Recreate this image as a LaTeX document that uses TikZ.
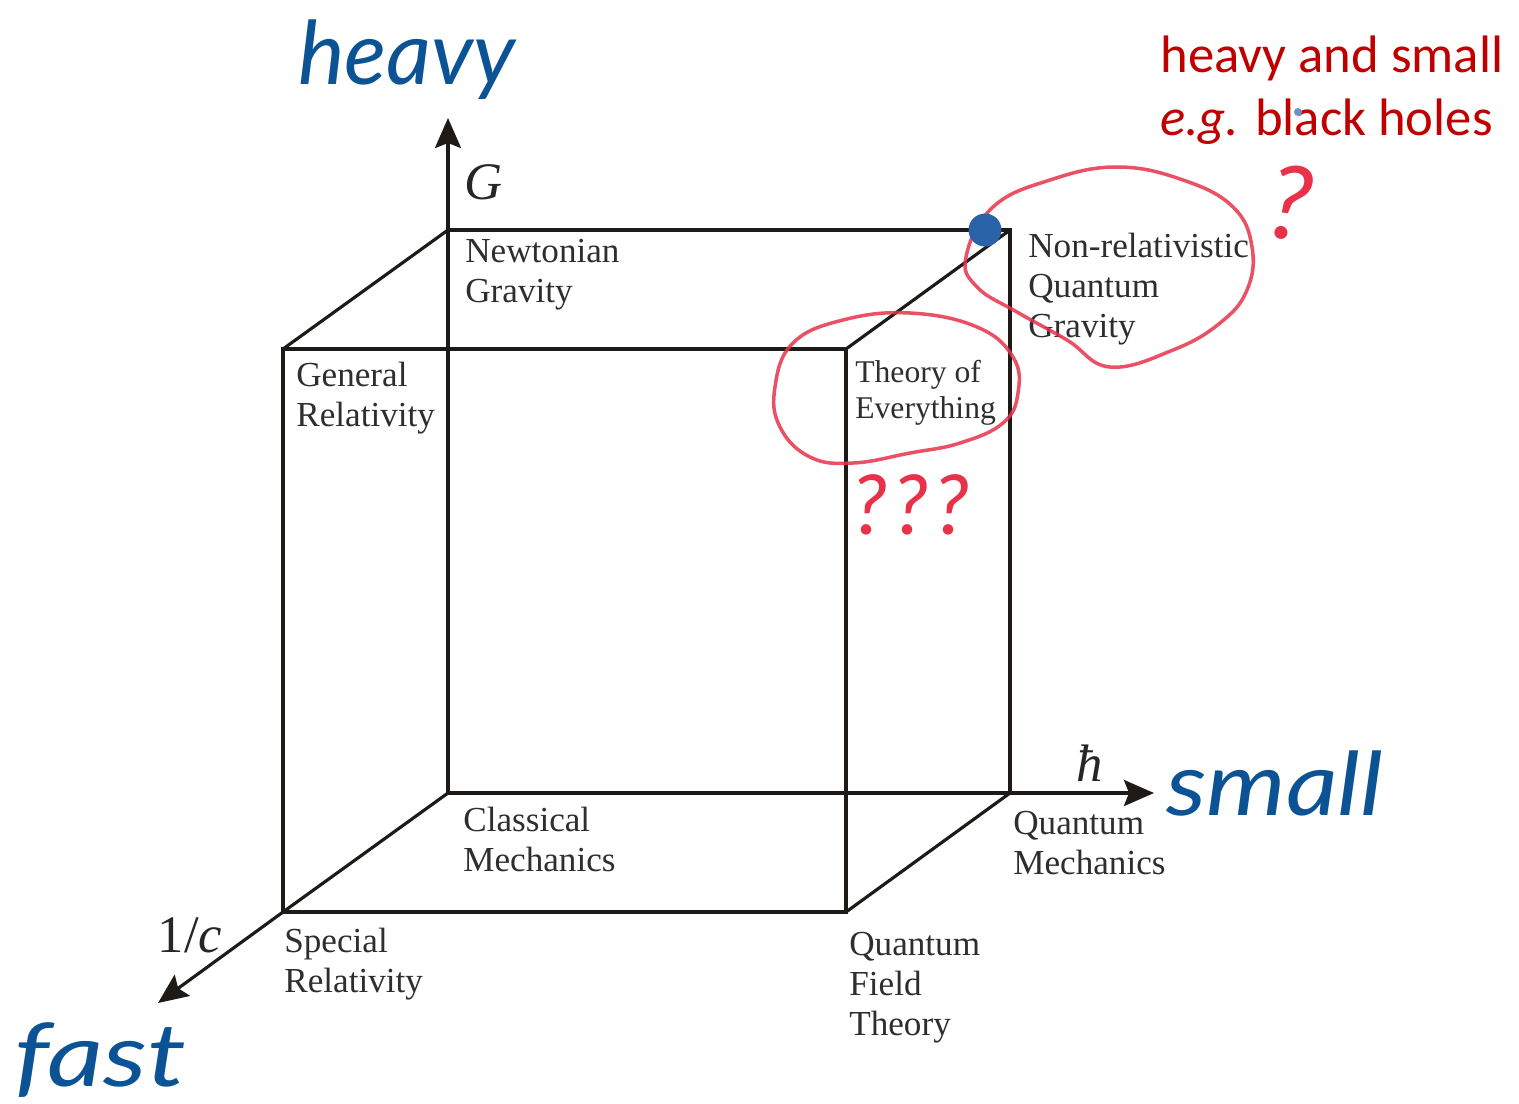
\documentclass[tikz,border=0pt]{standalone}
\usepackage{fontspec}
\setmainfont{Liberation Serif}
\newfontfamily\notefont{Carlito}
\newfontfamily\handfont{Lato}
\usetikzlibrary{arrows.meta}
\definecolor{inkblue}{HTML}{0B5394}
\definecolor{notered}{HTML}{C00000}
\definecolor{pencilred}{HTML}{E8324A}
\definecolor{dotblue}{HTML}{2A62A8}
\definecolor{cubeline}{HTML}{1E1A18}

\begin{document}
\begin{tikzpicture}[
  x=0.02cm, y=-0.02cm,
  cube/.style={line width=1.8pt, draw=cubeline, line cap=round, line join=miter},
  axis/.style={line width=1.8pt, draw=cubeline, -{Stealth[length=6mm, width=5.2mm, inset=1mm]}},
  lbl/.style={anchor=north west, inner sep=0pt, align=left, text=black!82,
              font=\fontsize{20}{22.7}\selectfont},
  axlbl/.style={inner sep=0pt, text=black!85, font=\itshape\fontsize{30}{34}\selectfont},
  hand/.style={inner sep=0pt, text=inkblue, font=\handfont\itshape\fontsize{50}{56}\selectfont},
  note/.style={anchor=north west, inner sep=0pt, align=left, text=notered,
               font=\notefont\fontsize{30}{35.5}\selectfont},
  scribble/.style={draw=pencilred, line width=2pt, opacity=0.85}
]
\useasboundingbox (0,0) rectangle (1519,1103);

% cube corners
\coordinate (backTL) at (448,230);
\coordinate (backTR) at (1010,230);
\coordinate (backBL) at (448,793);
\coordinate (backBR) at (1010,793);
\coordinate (frontTL) at (283,349);
\coordinate (frontTR) at (846,349);
\coordinate (frontBL) at (283,912);
\coordinate (frontBR) at (846,912);
% axis ends
\coordinate (gEnd) at (448,118);
\coordinate (hEnd) at (1154,793);
\coordinate (cEnd) at (158,1003);

\draw[cube] (backTL) -- (backTR) -- (backBR) -- (backBL) -- cycle;
\draw[cube] (frontTL) -- (frontTR) -- (frontBR) -- (frontBL) -- cycle;
\draw[cube] (frontTL) -- (backTL);
\draw[cube] (frontTR) -- (backTR);
\draw[cube] (frontBR) -- (backBR);
\draw[cube] (frontBL) -- (backBL);

\draw[axis] (backTL) -- (gEnd);
\draw[axis] (backBR) -- (hEnd);
\draw[axis] (frontBL) -- (cEnd);

\node[axlbl] (gLabel) at (484,182) {G};
\node[axlbl] (hLabel) at (1090,763) {ħ};
\node[axlbl, font=\fontsize{30}{34}\selectfont] (cLabel) at (190,935) {1/\textit{c}};

\node[lbl] (newton) at (465,239) {Newtonian\\Gravity};
\node[lbl] (gr) at (296,362) {General\\Relativity};
\node[lbl, font=\fontsize{18}{20.4}\selectfont] (toe) at (855,360) {Theory of\\Everything};
\node[lbl] (nrqg) at (1028,233) {Non-relativistic\\Quantum\\Gravity};
\node[lbl] (cm) at (463,807) {Classical\\Mechanics};
\node[lbl] (sr) at (284,928) {Special\\Relativity};
\node[lbl] (qm) at (1013,811) {Quantum\\Mechanics};
\node[lbl] (qft) at (849,932) {Quantum\\Field\\Theory};

% handwritten notes
\node[hand, anchor=base west] (heavy) at (298,84) {heavy};
\node[hand, anchor=base west, xscale=1.15] (small) at (1166,815) {small};
\node[hand, anchor=base west, xscale=1.25] (fast) at (14,1086) {fast};
\node[note] (bh) at (1160,36) {heavy and small\\\textit{e.g.} black holes};

% pencil marks
\draw[scribble] plot[smooth cycle, tension=0.7] coordinates {
  (793,343) (843,320) (910,313) (977,327) (1013,357) (1018,393) (1003,423)
  (960,443) (910,453) (853,463) (810,457) (780,427) (775,387)};
\draw[scribble] plot[smooth cycle, tension=0.7] coordinates {
  (993,207) (1050,180) (1117,167) (1183,180) (1233,207) (1252,247) (1247,290)
  (1220,323) (1173,350) (1110,367) (1067,340) (1017,312) (977,287) (966,257)};
\node[inner sep=0pt, text=pencilred,
      font=\notefont\itshape\fontsize{50}{56}\selectfont] (qmarks) at (910,505) {???};
\node[inner sep=0pt, text=pencilred, rotate=-8,
      font=\notefont\itshape\fontsize{62}{66}\selectfont] (qmark) at (1289,203) {?};
\fill[dotblue] (985,230) circle (3.3mm);
\fill[dotblue!70] (1298,112) circle (0.8mm);
\end{tikzpicture}
\end{document}
